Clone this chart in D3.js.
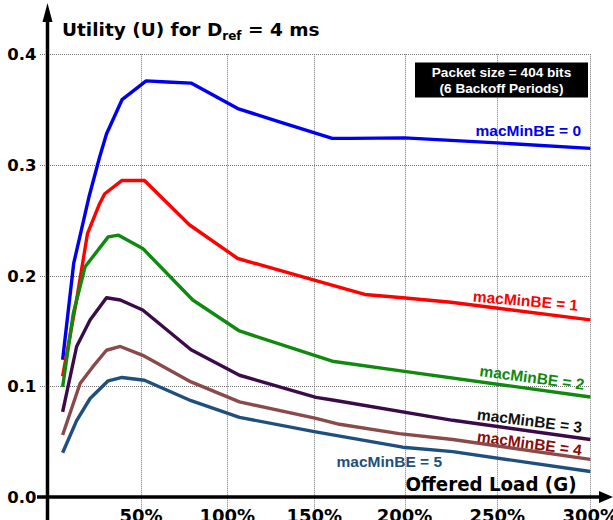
<!DOCTYPE html>
<html><head><meta charset="utf-8">
<script src="https://cdn.jsdelivr.net/npm/d3@7"></script>
<style>html,body{margin:0;padding:0;background:#fff;overflow:hidden}</style>
</head><body>
<svg id="c" width="613" height="520"></svg>
<script>
// ---- data (Offered load G in %, Utility U) ----
const be0 = [[4.6,0.124],[11,0.211],[20,0.272],[26,0.307],[30,0.328],[39,0.359],[53,0.376],[65,0.375],[79,0.374],[106,0.351],[130,0.339],[160,0.324],[170,0.324],[200,0.3245],[250,0.320],[300,0.315]];
const be1 = [[4.6,0.109],[13,0.181],[19,0.238],[26,0.265],[29,0.274],[39,0.286],[52,0.286],[78,0.246],[106,0.2155],[150,0.196],[178,0.183],[199,0.180],[225,0.176],[300,0.160]];
const be2 = [[4.6,0.0995],[10.8,0.166],[17.6,0.208],[31,0.235],[37,0.2366],[51,0.2246],[80,0.178],[107,0.150],[160,0.1227],[199,0.1137],[300,0.0904]];
const be3 = [[4.6,0.077],[12.7,0.136],[20.5,0.160],[30,0.180],[38,0.178],[51,0.169],[79,0.133],[107,0.110],[151,0.090],[161,0.0874],[226,0.0693],[300,0.052]];
const be4 = [[4.6,0.056],[14.7,0.1025],[22,0.1175],[30,0.1326],[38,0.136],[51,0.128],[79,0.104],[107,0.086],[151,0.071],[164,0.0657],[197,0.0573],[226,0.052],[300,0.034]];
const be5 = [[4.6,0.040],[12.7,0.069],[20.5,0.089],[31,0.105],[39,0.108],[52,0.1055],[79,0.087],[107,0.072],[150,0.059],[199,0.045],[226,0.041],[300,0.023]];
const seriesNames = ["macMinBE = 0","macMinBE = 1","macMinBE = 2","macMinBE = 3","macMinBE = 4","macMinBE = 5"];
const xTicks = [50,100,150,200,250,300];
const xTickLabels = ["50%","100%","150%","200%","250%","300%"];
const yTicks = [0.0,0.1,0.2,0.3,0.4];
const yTickLabels = ["0.0","0.1","0.2","0.3","0.4"];
const noteLines = ["Packet size = 404 bits","(6 Backoff Periods)"];

// ---- styles ----
const lineColors = ["#0000f0","#ff0000","#0f8a0f","#3a0b48","#8a4a4a","#1f4f7c"];
const labelColors = ["#0000f0","#ff0000","#0f8a0f","#111111","#8b0a0a","#1f4f7c"];
const labelPos = [[475.5,136,0],[472.5,301.5,5],[479,376,7.5],[476.5,419.5,7.2],[476.5,441.5,7.7],[336.5,467,0]];

const svg = d3.select("#c");
const x = d3.scaleLinear().domain([0,50,100,150,200,250,300]).range([54.7,141,227.3,314.2,404.5,497.3,590.3]);
const y = d3.scaleLinear().domain([0,0.4]).range([497,54.3]);
const axX = 47.5;

// grid
const grid = svg.append("g").attr("stroke","#777").attr("stroke-width",1).attr("stroke-dasharray","1,1");
grid.selectAll("line.v").data(xTicks).enter().append("line")
  .attr("x1",d=>Math.round(x(d))+0.5).attr("x2",d=>Math.round(x(d))+0.5)
  .attr("y1",y(0.4)).attr("y2",518);
grid.selectAll("line.h").data(yTicks.filter(d=>d>0)).enter().append("line")
  .attr("x1",40).attr("x2",x(300)+1)
  .attr("y1",d=>Math.round(y(d))+0.5).attr("y2",d=>Math.round(y(d))+0.5);

// axes (custom, via scales)
const axG = svg.append("g");
axG.append("line").attr("x1",axX).attr("x2",axX).attr("y1",520).attr("y2",18).attr("stroke","#000").attr("stroke-width",3.5);
axG.append("path").attr("d",`M${axX},3 L${axX-5},22 L${axX+5},22 Z`).attr("fill","#000");
axG.append("line").attr("x1",37).attr("x2",603).attr("y1",y(0)).attr("y2",y(0)).attr("stroke","#000").attr("stroke-width",3.5);
axG.append("path").attr("d",`M613,${y(0)} L599,${y(0)-6} L599,${y(0)+6} Z`).attr("fill","#000");

// y tick labels
svg.append("g").selectAll("text").data(yTicks).enter().append("text")
  .attr("x",36.5).attr("y",d=>y(d)).attr("dy","0.36em").attr("text-anchor","end")
  .attr("font-family","DejaVu Sans").attr("font-weight","bold").attr("font-size",16.5)
  .text((d,i)=>yTickLabels[i]);
// x tick labels
svg.append("g").selectAll("text").data(xTicks).enter().append("text")
  .attr("x",d=>x(d)).attr("y",522).attr("text-anchor","middle")
  .attr("font-family","DejaVu Sans").attr("font-weight","bold").attr("font-size",18)
  .text((d,i)=>xTickLabels[i]);

// title
const t = svg.append("text").attr("x",62).attr("y",35.5)
  .attr("font-family","DejaVu Sans").attr("font-weight","bold").attr("font-size",18.5);
t.append("tspan").text("Utility (U) for D");
t.append("tspan").attr("font-size",12).attr("dy",4).text("ref");
t.append("tspan").attr("dy",-4).text(" = 4 ms");

// x-axis title
svg.append("text").attr("x",405.5).attr("y",491)
  .attr("font-family","DejaVu Sans").attr("font-weight","bold").attr("font-size",19)
  .attr("textLength",171).attr("lengthAdjust","spacingAndGlyphs").text("Offered Load (G)");

// curves
const line = d3.line().x(d=>x(d[0])).y(d=>y(d[1]));
[be0,be1,be2,be3,be4,be5].forEach((s,i)=>{
  svg.append("path").datum(s).attr("d",line).attr("fill","none")
    .attr("stroke",lineColors[i]).attr("stroke-width",3.4).attr("stroke-linejoin","round");
});

// curve labels
seriesNames.forEach((n,i)=>{
  const p = labelPos[i];
  svg.append("text").attr("transform",`translate(${p[0]},${p[1]}) rotate(${p[2]})`)
    .attr("font-family","Liberation Sans, Arial").attr("font-weight","bold").attr("font-size",15.5)
    .attr("fill",labelColors[i]).text(n);
});

// note box
svg.append("rect").attr("x",415).attr("y",62.5).attr("width",173).attr("height",35).attr("fill","#000");
svg.append("g").selectAll("text").data(noteLines).enter().append("text")
  .attr("x",501.5).attr("y",(d,i)=>77+i*15.5).attr("text-anchor","middle")
  .attr("font-family","Liberation Sans, Arial").attr("font-weight","bold").attr("font-size",13.6)
  .attr("fill","#fff").text(d=>d);
</script>
</body></html>
